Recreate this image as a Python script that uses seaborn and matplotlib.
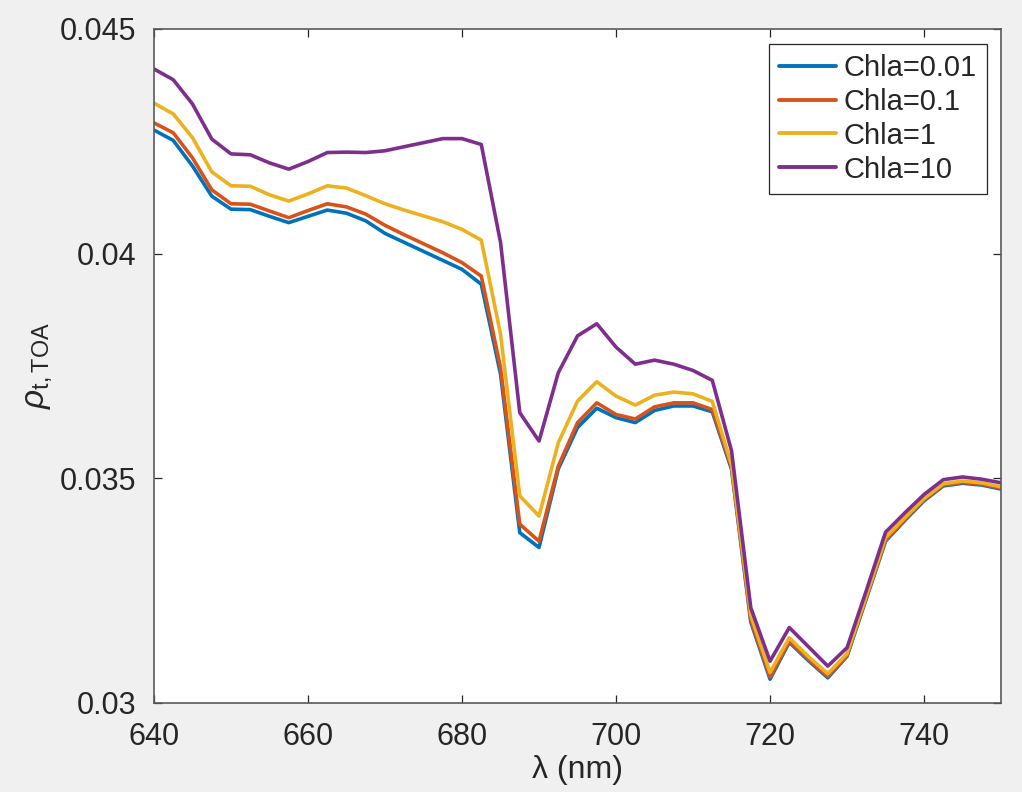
import numpy as np
import pandas as pd
import matplotlib
matplotlib.use("Agg")
import matplotlib.pyplot as plt
import seaborn as sns

# Wavelengths (nm)
wavelength = [640, 642.5, 645, 647.5, 650, 652.5, 655, 657.5, 660, 662.5,
              665, 667.5, 670, 672.5, 675, 677.5, 680, 682.5, 685, 687.5,
              690, 692.5, 695, 697.5, 700, 702.5, 705, 707.5, 710, 712.5,
              715, 717.5, 720, 722.5, 725, 727.5, 730, 732.5, 735, 737.5,
              740, 742.5, 745, 747.5, 750]

# Top-of-atmosphere reflectance for each chlorophyll-a concentration
rho_chla_001 = [0.04275, 0.04252, 0.04195, 0.04128, 0.04099, 0.04098, 0.04083, 0.04069, 0.04083, 0.04097,
                0.04090, 0.04073, 0.04045, 0.04025, 0.04005, 0.03985, 0.03965, 0.03932, 0.03732, 0.03379,
                0.03346, 0.03521, 0.03613, 0.03656, 0.03635, 0.03624, 0.03651, 0.03661, 0.03661, 0.03648,
                0.03520, 0.03180, 0.03053, 0.03135, 0.03094, 0.03056, 0.03104, 0.03232, 0.03360, 0.03406,
                0.03450, 0.03483, 0.03489, 0.03485, 0.03476]
rho_chla_01 = [0.04291, 0.04269, 0.04213, 0.04142, 0.04111, 0.04110, 0.04095, 0.04080, 0.04096, 0.04111,
               0.04104, 0.04088, 0.04063, 0.04042, 0.04022, 0.04002, 0.03980, 0.03950, 0.03746, 0.03398,
               0.03360, 0.03527, 0.03624, 0.03668, 0.03642, 0.03632, 0.03659, 0.03668, 0.03668, 0.03653,
               0.03525, 0.03185, 0.03058, 0.03138, 0.03097, 0.03059, 0.03106, 0.03234, 0.03362, 0.03408,
               0.03452, 0.03485, 0.03491, 0.03487, 0.03478]
rho_chla_1 = [0.04335, 0.04311, 0.04258, 0.04182, 0.04151, 0.04150, 0.04131, 0.04117, 0.04133, 0.04151,
              0.04146, 0.04129, 0.04111, 0.04097, 0.04084, 0.04071, 0.04054, 0.04030, 0.03821, 0.03461,
              0.03416, 0.03579, 0.03672, 0.03715, 0.03683, 0.03663, 0.03685, 0.03692, 0.03688, 0.03671,
              0.03530, 0.03195, 0.03068, 0.03145, 0.03103, 0.03065, 0.03110, 0.03238, 0.03368, 0.03412,
              0.03455, 0.03488, 0.03494, 0.03490, 0.03481]
rho_chla_10 = [0.04411, 0.04387, 0.04333, 0.04255, 0.04222, 0.04220, 0.04202, 0.04188, 0.04205, 0.04225,
               0.04226, 0.04225, 0.04229, 0.04238, 0.04247, 0.04256, 0.04256, 0.04243, 0.04025, 0.03646,
               0.03583, 0.03735, 0.03817, 0.03844, 0.03792, 0.03754, 0.03763, 0.03754, 0.03740, 0.03718,
               0.03561, 0.03212, 0.03093, 0.03168, 0.03125, 0.03082, 0.03123, 0.03250, 0.03380, 0.03423,
               0.03464, 0.03497, 0.03503, 0.03498, 0.03490]

series_labels = ["Chla=0.01", "Chla=0.1", "Chla=1", "Chla=10"]
series_values = [rho_chla_001, rho_chla_01, rho_chla_1, rho_chla_10]
line_colors = ["#0072BD", "#D95319", "#EDB120", "#7E2F8E"]

x_ticks = [640, 660, 680, 700, 720, 740]
y_ticks = [0.03, 0.035, 0.04, 0.045]
y_tick_labels = ["0.03", "0.035", "0.04", "0.045"]

df = pd.concat(
    [pd.DataFrame({"wavelength": wavelength, "rho": vals, "series": lab})
     for lab, vals in zip(series_labels, series_values)],
    ignore_index=True,
)

sns.set_theme(style="ticks")
plt.rcParams["font.family"] = ["Liberation Sans", "DejaVu Sans"]
plt.rcParams["mathtext.fontset"] = "custom"
plt.rcParams["mathtext.rm"] = "Liberation Sans"
plt.rcParams["mathtext.it"] = "Liberation Sans:italic"

fig = plt.figure(figsize=(10.22, 7.92), dpi=100, facecolor="#f0f0f0")
ax = fig.add_axes([0.1507, 0.1124, 0.8288, 0.851])
ax.set_facecolor("white")

sns.lineplot(data=df, x="wavelength", y="rho", hue="series",
             hue_order=series_labels, palette=line_colors,
             linewidth=2.6, ax=ax, legend=True)

ax.set_xlim(640, 750)
ax.set_ylim(0.03, 0.045)
ax.set_xticks(x_ticks)
ax.set_yticks(y_ticks)
ax.set_yticklabels(y_tick_labels)

for side in ["top", "right", "bottom", "left"]:
    ax.spines[side].set_visible(True)
    ax.spines[side].set_color("#5a5a5a")
    ax.spines[side].set_linewidth(1.2)

ax.tick_params(axis="both", which="both", direction="in", length=6,
               width=0.9, color="#262626", labelsize=22,
               labelcolor="#262626", top=True, right=True)
ax.tick_params(axis="y", pad=13)
ax.tick_params(axis="x", pad=14)

ax.set_xlabel("λ (nm)", fontsize=23, color="#262626", labelpad=2)
ax.set_ylabel(r"$\rho_{\mathrm{t,TOA}}$", fontsize=24, color="#262626")
ax.yaxis.set_label_coords(-0.118, 0.5)

leg = ax.legend(loc="upper right", bbox_to_anchor=(0.983, 0.978),
                borderaxespad=0, fontsize=21, frameon=True, fancybox=False,
                handlelength=1.95, handletextpad=0.25, labelspacing=0.2,
                borderpad=0.35)
leg.get_frame().set_edgecolor("#262626")
leg.get_frame().set_linewidth(0.9)
leg.get_frame().set_facecolor("white")
leg.get_frame().set_alpha(1)
for line in leg.get_lines():
    line.set_linewidth(2.8)

fig.savefig("out.png", dpi=100, facecolor=fig.get_facecolor())
